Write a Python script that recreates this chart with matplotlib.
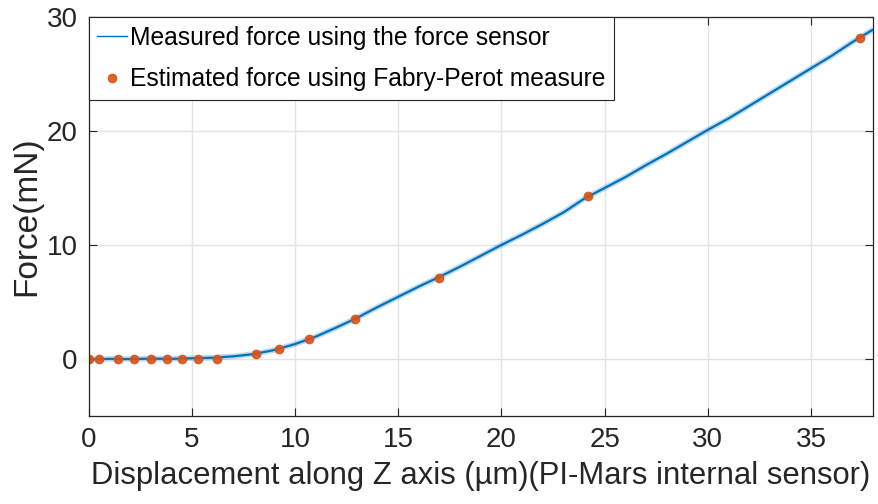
import matplotlib
matplotlib.use("Agg")
import matplotlib.pyplot as plt
from matplotlib import font_manager

names = {f.name for f in font_manager.fontManager.ttflist}
fam = ['Liberation Sans Narrow'] if 'Liberation Sans Narrow' in names else ['Liberation Sans']
plt.rcParams['font.family'] = fam + ['DejaVu Sans']

# Measured force (centerline)
meas_x = [0, 1, 2, 3, 4, 5, 6, 7, 8, 9, 10, 11, 12, 13, 14, 15, 16, 17, 18, 19,
          20, 21, 22, 23, 24, 25, 26, 27, 28, 29, 30, 31, 32, 33, 34, 35, 36, 37, 38]
meas_y = [-0.05, 0.0, -0.02, 0.02, 0.0, 0.05, 0.1, 0.22, 0.42, 0.78, 1.3, 1.95, 2.75,
          3.6, 4.55, 5.45, 6.35, 7.2, 8.1, 9.05, 10.0, 10.9, 11.85, 12.85, 14.05,
          15.0, 15.95, 17.0, 18.0, 19.05, 20.1, 21.1, 22.2, 23.3, 24.4, 25.5, 26.6,
          27.8, 28.9]

# Estimated force (Fabry-Perot)
est_x = [0.0, 0.5, 1.4, 2.2, 3.0, 3.8, 4.5, 5.3, 6.2, 8.1, 9.2, 10.65, 12.9, 16.95, 24.2, 37.4]
est_y = [0.0, 0.0, 0.0, 0.0, 0.0, 0.0, 0.0, 0.0, 0.0, 0.41, 0.85, 1.78, 3.5, 7.13, 14.3, 28.2]

xticks = [0, 5, 10, 15, 20, 25, 30, 35]
yticks = [0, 10, 20, 30]

fig = plt.figure(figsize=(8.79, 5.04), dpi=100)
ax = fig.add_axes([0.101, 0.175, 0.892, 0.791])

blue = '#0072BD'
orange = '#D95319'
ax.plot(meas_x, meas_y, color=blue, lw=4.0, alpha=0.25, solid_capstyle='butt')
line, = ax.plot(meas_x, meas_y, color=blue, lw=1.6, label='Measured force using the force sensor')
pts, = ax.plot(est_x, est_y, 'o', color=orange, ms=6, mec=orange, alpha=0.9,
               label='Estimated force using Fabry-Perot measure')

ax.set_xlim(0, 38)
ax.set_ylim(-5, 30)
ax.set_xticks(xticks)
ax.set_yticks(yticks)
ax.grid(True, color='#e3e3e3', lw=1)
ax.set_axisbelow(True)
ax.tick_params(direction='in', length=6, labelsize=20, colors='#262626', width=0.8,
               top=True, right=True, pad=8)
for s in ax.spines.values():
    s.set_color('#262626')
    s.set_linewidth(0.9)

ax.set_xlabel('Displacement along Z axis (\u00b5m)(PI-Mars internal sensor)', fontsize=22.3,
              color='#262626', labelpad=6)
ax.set_ylabel('Force(mN)', fontsize=24, color='#262626', labelpad=3)

leg = ax.legend(handles=[line, pts], loc='upper left', fontsize=17.7, frameon=True,
                fancybox=False, edgecolor='#262626', framealpha=1, borderaxespad=0.0,
                handlelength=1.2, handletextpad=0.12, borderpad=0.35, labelspacing=0.72)
leg.get_frame().set_linewidth(0.8)
for h in leg.legend_handles:
    h.set_linewidth(1.0) if hasattr(h, 'set_linewidth') else None

fig.savefig('out.png', dpi=100)
